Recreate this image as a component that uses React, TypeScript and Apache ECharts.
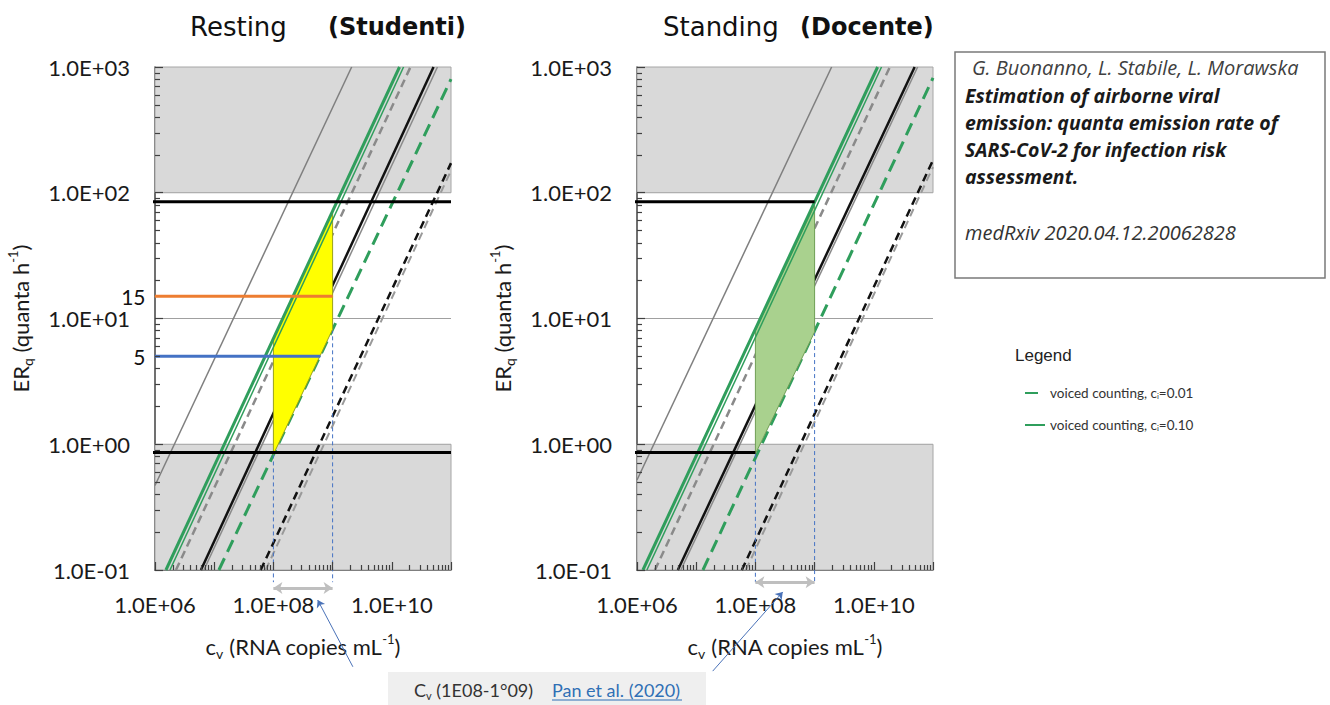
import React, { useEffect, useRef } from "react";
import * as echarts from "echarts";

// ---------- axes ----------
const X_MIN = 1e6;
const X_MAX = 1e11;
const Y_MIN = 0.1;
const Y_MAX = 1000;
const xLabelExponents = [6, 8, 10];
const yLabelExponents = [-1, 0, 1, 2, 3];
const minorMultipliers = [2, 3, 4, 5, 6, 7, 8, 9];

// ---------- panels ----------
const panelTitles = [
  ["Resting", "(Studenti)"],
  ["Standing", "(Docente)"],
];

// gray bands (ER ranges)
const upperBand = [100, 1000];
const lowerBand = [0.1, 1];

// Resting (Studenti): line end points [cv, ER]
const restGrayThin = [[1e6, 0.47], [2.1e9, 1000]];
const restGreenThick = [[1.53e6, 0.1], [1.35e10, 1000]];
const restGreenThin = [[1.79e6, 0.1], [1.58e10, 1000]];
const restGrayDashed = [[2.26e6, 0.1], [2.07e10, 1000]];
const restBlack = [[5.97e6, 0.1], [5.07e10, 1000]];
const restGraySolid = [[6.7e6, 0.1], [5.9e10, 1000]];
const restGreenDashed = [[1.2e7, 0.1], [1e11, 800]];
const restBlackDashed = [[6.1e7, 0.1], [1e11, 172]];
const restGrayDashed2 = [[7.4e7, 0.1], [1e11, 150]];
const restArea = [[1e8, 6.9], [1e9, 71], [1e9, 8.2], [1e8, 0.83]];

// Standing (Docente)
const standGrayThin = [[1e6, 0.52], [1.94e9, 1000]];
const standGreenThick = [[1.26e6, 0.1], [1.16e10, 1000]];
const standGreenThin = [[1.47e6, 0.1], [1.35e10, 1000]];
const standGrayDashed = [[2.01e6, 0.1], [1.87e10, 1000]];
const standBlack = [[4.9e6, 0.1], [4.9e10, 1000]];
const standGraySolid = [[5.5e6, 0.1], [5.5e10, 1000]];
const standGreenDashed = [[1.3e7, 0.1], [1e11, 818]];
const standBlackDashed = [[5.9e7, 0.1], [1e11, 182]];
const standGrayDashed2 = [[6.9e7, 0.1], [1e11, 160]];
const standArea = [[1e8, 8.0], [1e9, 80], [1e9, 7.8], [1e8, 0.84]];

// ER limits (thick black horizontals)
const erUpper = 85;
const erLower = 0.86;
const restUpperLine = [[4.8e5, erUpper], [1e11, erUpper]];
const restLowerLine = [[4.8e5, erLower], [1e11, erLower]];
const standUpperLine = [[5e2, erUpper], [1e9, erUpper]];
const standLowerLine = [[5e2, erLower], [1e8, erLower]];

// reference ER levels (Resting only)
const ref15 = [[1e6, 15], [1e9, 15]];
const ref5 = [[1e6, 5], [6.2e8, 5]];

// cv range 1E08 - 1E09 (Pan et al. 2020)
const restCvLow = [[1e8, 0.83], [1e8, 0.08]];
const restCvHigh = [[1e9, 8.2], [1e9, 0.08]];
const standCvLow = [[1e8, 0.84], [1e8, 0.08]];
const standCvHigh = [[1e9, 7.8], [1e9, 0.08]];
const restRangeArrow = [[1e8, 0.072], [1e9, 0.072]];
const standRangeArrow = [[1e8, 0.08], [1e9, 0.08]];
const restPointer = [[2.2e9, 0.017], [5.6e8, 0.0577]];
const standPointer = [[1.9e7, 0.0157], [2.9e8, 0.0669]];

const LEG_001 = "voiced counting, ci=0.01";
const LEG_010 = "voiced counting, ci=0.10";

const GREEN = "#2f9e5c";

// tick lengths expressed as ratios along the log axes (~5px minor, ~8px major)
const X_TICK_MINOR = 1.214;
const X_TICK_MAJOR = 1.365;
const Y_TICK_MINOR = 1.096;
const Y_TICK_MAJOR = 1.158;

const fmtExp = (v: number) => {
  const e = Math.round(Math.log10(v));
  const a = Math.abs(e);
  return `1.0E${e < 0 ? "-" : "+"}${a < 10 ? "0" + a : a}`;
};

const nameRich = {
  a: { fontFamily: "Lato", fontSize: 22, color: "#1a1a1a", lineHeight: 28 },
  s: { fontFamily: "Lato", fontSize: 14, color: "#1a1a1a", verticalAlign: "bottom", lineHeight: 15 },
  p: { fontFamily: "Lato", fontSize: 13, color: "#1a1a1a", verticalAlign: "top", lineHeight: 15 },
};

function ln(g: number, data: any, color: string, width: number, type: any, z = 2, name?: string, clip = true) {
  return {
    type: "line",
    name,
    xAxisIndex: g,
    yAxisIndex: g,
    data,
    symbol: "none",
    showSymbol: false,
    clip,
    lineStyle: { color, width, type },
    itemStyle: { color },
    z,
    silent: true,
  };
}

function polySeries(g: number, pts: number[][], fill: string, stroke: string) {
  return {
    type: "custom",
    xAxisIndex: g,
    yAxisIndex: g,
    z: 3,
    silent: true,
    data: pts,
    renderItem: (params: any, api: any) => {
      if (params.dataIndex !== 0) return null;
      return {
        type: "polygon",
        shape: { points: pts.map((p) => api.coord(p)) },
        style: { fill, stroke, lineWidth: 1 },
      };
    },
  };
}

// log axis ticks (major decades + minor 2..9), drawn inside the plot
function tickSeries(g: number) {
  const data: any[] = [];
  for (let e = -1; e <= 3; e++) {
    const d = Math.pow(10, e);
    data.push({ coords: [[X_MIN, d], [X_MIN * X_TICK_MAJOR, d]] });
    if (e < 3) minorMultipliers.forEach((m) => data.push({ coords: [[X_MIN, m * d], [X_MIN * X_TICK_MINOR, m * d]] }));
  }
  for (let e = 6; e <= 11; e++) {
    const d = Math.pow(10, e);
    data.push({ coords: [[d, Y_MIN], [d, Y_MIN * Y_TICK_MAJOR]] });
    if (e < 11) minorMultipliers.forEach((m) => data.push({ coords: [[m * d, Y_MIN], [m * d, Y_MIN * Y_TICK_MINOR]] }));
  }
  return {
    type: "lines",
    coordinateSystem: "cartesian2d",
    xAxisIndex: g,
    yAxisIndex: g,
    clip: false,
    silent: true,
    z: 8,
    symbol: ["none", "none"],
    lineStyle: { color: "#404040", width: 1.2, opacity: 1 },
    data,
  };
}

function arrowSeries(g: number, coords: number[][], color: string, width: number, symbol: string[], size: number) {
  return {
    type: "lines",
    coordinateSystem: "cartesian2d",
    xAxisIndex: g,
    yAxisIndex: g,
    clip: false,
    silent: true,
    z: 7,
    symbol,
    symbolSize: size,
    lineStyle: { color, width, opacity: 1 },
    data: [{ coords }],
  };
}

function panel(g: number, d: any) {
  const s: any[] = [
    {
      type: "line",
      xAxisIndex: g,
      yAxisIndex: g,
      data: [],
      z: 0,
      silent: true,
      markArea: {
        silent: true,
        itemStyle: { color: "#d9d9d9", borderColor: "#a6a6a6", borderWidth: 1 },
        data: [
          [{ yAxis: upperBand[0] }, { yAxis: upperBand[1] }],
          [{ yAxis: lowerBand[0] }, { yAxis: lowerBand[1] }],
        ],
      },
    },
    ln(g, d.grayThin, "#7f7f7f", 1.5, "solid"),
    ln(g, d.grayDashed, "#8a8a8a", 2.5, [8, 5]),
    ln(g, d.black, "#111", 2.5, "solid"),
    ln(g, d.graySolid, "#8a8a8a", 1.5, "solid"),
    ln(g, d.greenDashed, GREEN, 3, [13, 7], 2, LEG_001),
    ln(g, d.blackDashed, "#111", 2.5, [8, 5]),
    ln(g, d.grayDashed2, "#9a9a9a", 2, [8, 5]),
    ln(g, d.cvLow, "#4472c4", 1, [4, 3], 2, undefined, false),
    ln(g, d.cvHigh, "#4472c4", 1, [4, 3], 2, undefined, false),
    polySeries(g, d.area, d.fill, d.stroke),
    ln(g, d.greenThin, GREEN, 1.5, "solid", 4),
    ln(g, d.greenThick, GREEN, 3, "solid", 4, LEG_010),
    ln(g, d.upper, "#000", 3, "solid", 5, undefined, false),
    ln(g, d.lower, "#000", 3, "solid", 5, undefined, false),
    arrowSeries(g, d.range, "#bfbfbf", 3, ["arrow", "arrow"], 9),
    arrowSeries(g, d.pointer, "#4a72b8", 1, ["none", "arrow"], 7),
    tickSeries(g),
  ];
  return s;
}

function refLine(data: number[][], color: string, label: string) {
  return {
    type: "line",
    xAxisIndex: 0,
    yAxisIndex: 0,
    symbol: "circle",
    symbolSize: 1,
    showSymbol: true,
    silent: true,
    z: 5,
    lineStyle: { color, width: 3 },
    itemStyle: { color },
    data: [
      {
        value: data[0],
        label: { show: true, position: "left", distance: 9, formatter: label, fontFamily: "Lato", fontSize: 21, color: "#111" },
      },
      data[1],
    ],
  };
}

function makeAxes(g: number) {
  const xAxis = {
    type: "log",
    gridIndex: g,
    min: X_MIN,
    max: X_MAX,
    logBase: 10,
    axisLine: { show: true, lineStyle: { color: "#404040", width: 1.5 } },
    axisTick: { show: false },
    axisLabel: {
      formatter: (v: number) => (xLabelExponents.includes(Math.round(Math.log10(v))) ? fmtExp(v) : ""),
      fontFamily: "Lato",
      fontSize: 22,
      color: "#1a1a1a",
      margin: 23,
    },
    splitLine: { show: false },
    name: "{a|c}{s|v}{a| (RNA copies mL}{p|-1}{a|)}",
    nameLocation: "middle",
    nameGap: 62,
    nameTextStyle: { rich: nameRich },
  };
  const yAxis = {
    type: "log",
    gridIndex: g,
    min: Y_MIN,
    max: Y_MAX,
    logBase: 10,
    axisLine: { show: true, lineStyle: { color: "#404040", width: 1.5 } },
    axisTick: { show: false },
    axisLabel: {
      formatter: (v: number) => (yLabelExponents.includes(Math.round(Math.log10(v))) ? fmtExp(v) : ""),
      fontFamily: "Lato",
      fontSize: 22,
      color: "#1a1a1a",
      margin: 25,
    },
    splitLine: { show: true, lineStyle: { color: "#a0a0a0", width: 1 } },
    name: "{a|ER}{s|q}{a| (quanta h}{p|-1}{a|)}",
    nameLocation: "middle",
    nameGap: 121,
    nameTextStyle: { rich: nameRich },
  };
  return { xAxis, yAxis };
}

const txt = (x: number, y: number, text: string, extra: any) => ({
  type: "text",
  x,
  y,
  silent: true,
  style: { text, align: "left", verticalAlign: "middle", fill: "#111", ...extra },
});

export default function App() {
  const ref = useRef<HTMLDivElement>(null);
  useEffect(() => {
    if (!ref.current) return;
    const chart = echarts.init(ref.current, undefined, { renderer: "svg" });
    const a0 = makeAxes(0);
    const a1 = makeAxes(1);
    const rest = {
      grayThin: restGrayThin, greenThick: restGreenThick, greenThin: restGreenThin, grayDashed: restGrayDashed,
      black: restBlack, graySolid: restGraySolid, greenDashed: restGreenDashed, blackDashed: restBlackDashed,
      grayDashed2: restGrayDashed2, area: restArea, fill: "#ffff00", stroke: "#9aa21a",
      upper: restUpperLine, lower: restLowerLine, cvLow: restCvLow, cvHigh: restCvHigh,
      range: restRangeArrow, pointer: restPointer,
    };
    const stand = {
      grayThin: standGrayThin, greenThick: standGreenThick, greenThin: standGreenThin, grayDashed: standGrayDashed,
      black: standBlack, graySolid: standGraySolid, greenDashed: standGreenDashed, blackDashed: standBlackDashed,
      grayDashed2: standGrayDashed2, area: standArea, fill: "#a9d18e", stroke: "#6f9e55",
      upper: standUpperLine, lower: standLowerLine, cvLow: standCvLow, cvHigh: standCvHigh,
      range: standRangeArrow, pointer: standPointer,
    };

    const boxFont = { fontFamily: "Open Sans", fontSize: 19.5, fontStyle: "italic", fontWeight: "bold", fill: "#1a1a1a" };
    const boxItalic = { fontFamily: "Open Sans", fontSize: 20, fontStyle: "italic", fill: "#404040" };

    chart.setOption({
      animation: false,
      backgroundColor: "#ffffff",
      grid: [
        { left: 155, top: 67, width: 296, height: 503 },
        { left: 637, top: 67, width: 296, height: 503 },
      ],
      xAxis: [a0.xAxis, a1.xAxis],
      yAxis: [a0.yAxis, a1.yAxis],
      legend: {
        data: [LEG_001, LEG_010],
        orient: "vertical",
        left: 1019,
        top: 381,
        itemWidth: 20,
        itemHeight: 12,
        itemGap: 18,
        selectedMode: false,
        lineStyle: { width: 2 },
        itemStyle: { opacity: 0 },
        formatter: (n: string) => n.replace("ci", "c{sub|i}"),
        textStyle: {
          fontFamily: "Lato",
          fontSize: 13.5,
          color: "#333",
          rich: { sub: { fontFamily: "Lato", fontSize: 8, color: "#333", verticalAlign: "bottom", lineHeight: 9 } },
        },
      },
      series: [
        ...panel(0, rest),
        ...panel(1, stand),
        refLine(ref15, "#ed7d31", "15"),
        refLine(ref5, "#4472c4", "5"),
      ],
      graphic: [
        txt(190, 27, panelTitles[0][0], { fontFamily: "DejaVu Sans", fontSize: 26 }),
        txt(328, 27, panelTitles[0][1], { fontFamily: "DejaVu Sans", fontSize: 24, fontWeight: "bold" }),
        txt(663, 27, panelTitles[1][0], { fontFamily: "DejaVu Sans", fontSize: 26 }),
        txt(800, 27, panelTitles[1][1], { fontFamily: "DejaVu Sans", fontSize: 24, fontWeight: "bold" }),
        {
          type: "rect",
          silent: true,
          shape: { x: 955, y: 52, width: 370, height: 226 },
          style: { fill: "#ffffff", stroke: "#7a7a7a", lineWidth: 1.5 },
        },
        txt(972, 67, "G. Buonanno, L. Stabile, L. Morawska", boxItalic),
        txt(965, 95, "Estimation of airborne viral", boxFont),
        txt(965, 122, "emission: quanta emission rate of", boxFont),
        txt(965, 149, "SARS-CoV-2 for infection risk", boxFont),
        txt(965, 176, "assessment.", boxFont),
        txt(965, 232, "medRxiv 2020.04.12.20062828", { ...boxItalic, fill: "#333" }),
        txt(1015, 355, "Legend", { fontFamily: "Liberation Sans", fontSize: 17, fill: "#222" }),
        {
          type: "rect",
          silent: true,
          shape: { x: 388, y: 672, width: 318, height: 33 },
          style: { fill: "#efefef" },
        },
        {
          type: "text",
          x: 414,
          y: 690,
          silent: true,
          style: {
            text: "{a|C}{s|v}{a| (1E08-1°09)}",
            align: "left",
            verticalAlign: "middle",
            rich: {
              a: { fontFamily: "Lato", fontSize: 18, fill: "#333", lineHeight: 22 },
              s: { fontFamily: "Lato", fontSize: 11, fill: "#333", verticalAlign: "bottom", lineHeight: 12 },
            },
          },
        },
        txt(552, 690, "Pan et al. (2020)", { fontFamily: "Lato", fontSize: 18, fill: "#2f6fb5" }),
        {
          type: "line",
          silent: true,
          shape: { x1: 552, y1: 700, x2: 682, y2: 700 },
          style: { stroke: "#2f6fb5", lineWidth: 1 },
        },
      ],
    });
    return () => chart.dispose();
  }, []);
  return <div ref={ref} style={{ position: "absolute", left: 0, top: 0, width: 1330, height: 705 }} />;
}
